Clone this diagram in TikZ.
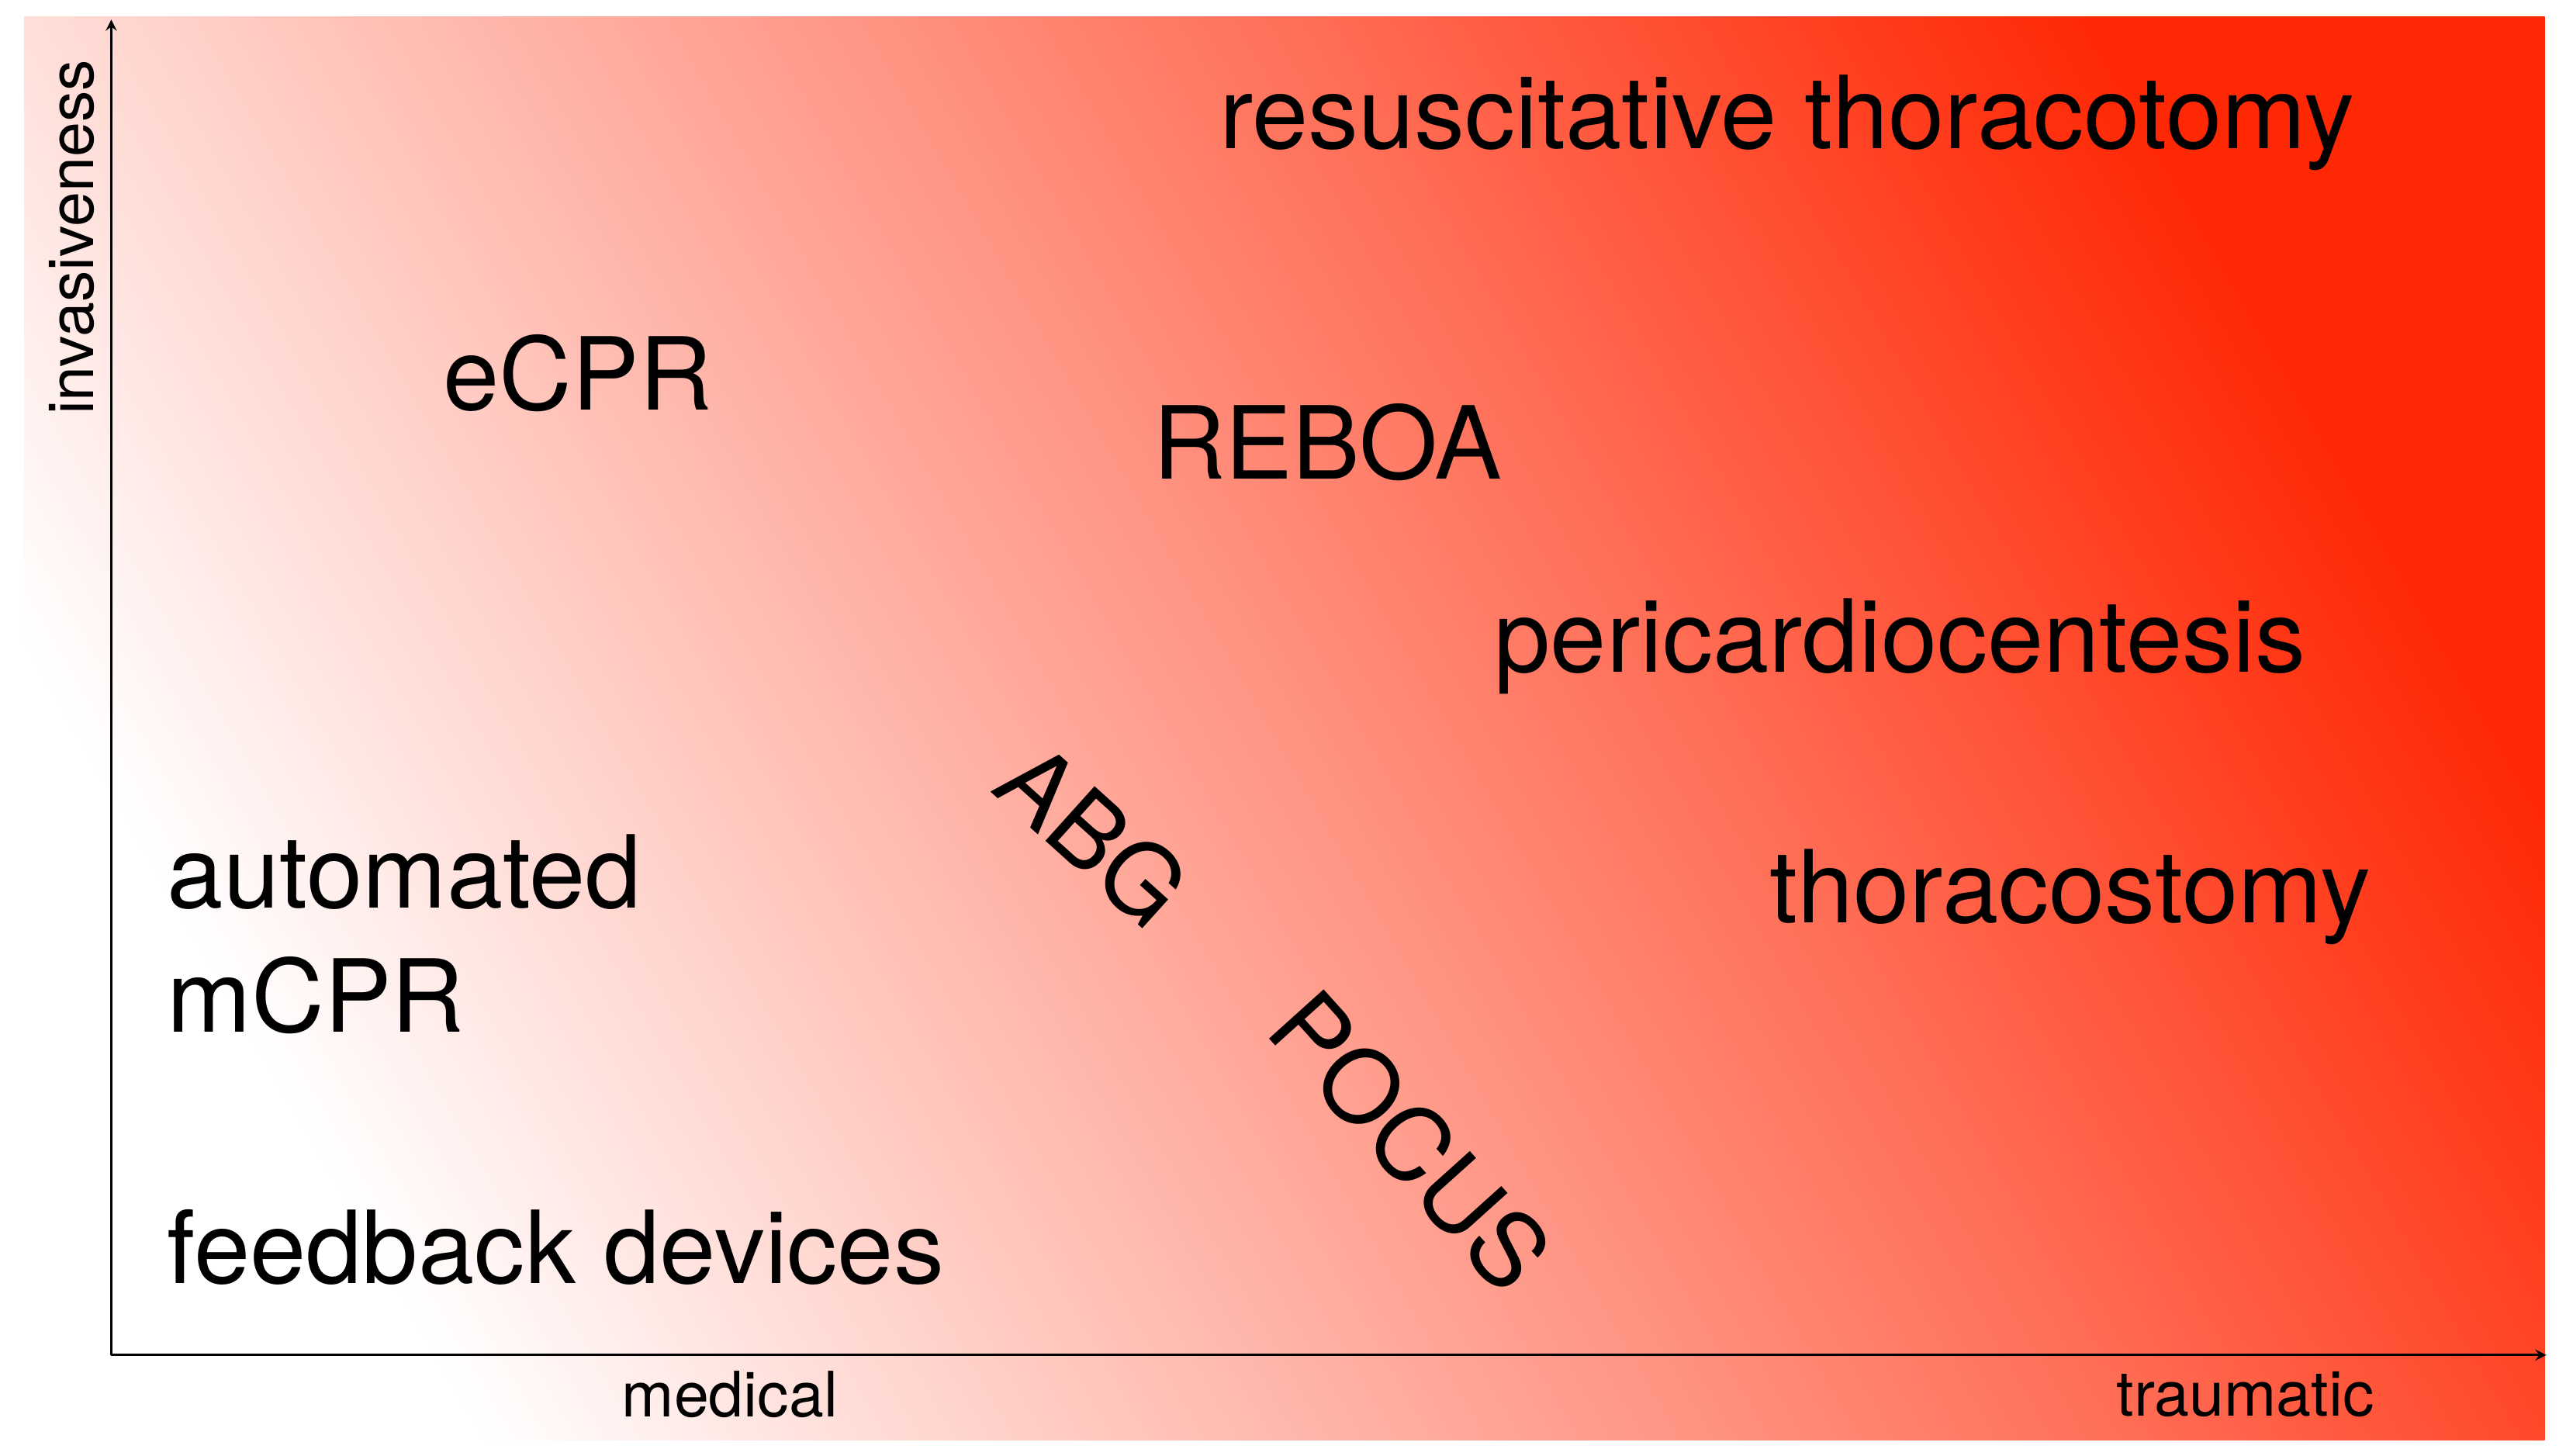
\documentclass[tikz,border=0pt]{standalone}
\usepackage{fontspec}
\setmainfont{TeX Gyre Heros}
\definecolor{cUR}{RGB}{255,40,5}
\definecolor{cMid}{RGB}{250,175,160}
\begin{document}
\begin{tikzpicture}[x=0.0211cm,y=-0.0211cm,
  big/.style={font=\fontsize{37}{40}\selectfont, inner sep=0pt},
  small/.style={font=\fontsize{23}{26}\selectfont, inner sep=0pt},
  ax/.style={line width=0.8pt,-stealth}]
\useasboundingbox (0,0) rectangle (1568,889.6);
\fill[white] (0,0) rectangle (1568,889.6);
\shade[bottom color=white, middle color=cMid, top color=cUR, shading angle=-60] (15,10) rectangle (1555,880);
\coordinate (o) at (68,828);
\coordinate (yt) at (68,12);
\coordinate (xr) at (1556,828);
\draw[ax] (o) -- (yt);
\draw[ax] (o) -- (xr);
\node[small,rotate=90] (inv) at (44,145) {invasiveness};
\node[small] (med) at (446,852) {medical};
\node[small] (tra) at (1372,852) {traumatic};
\node[big] (rt) at (1092,75) {resuscitative thoracotomy};
\node[big] (ecpr) at (353,228) {eCPR};
\node[big] (reboa) at (811,270) {REBOA};
\node[big] (peri) at (1161,395) {pericardiocentesis};
\node[big] (thor) at (1265,548) {thoracostomy};
\node[big,anchor=west] (auto) at (102,533) {automated};
\node[big,anchor=west] (mcpr) at (102,608) {mCPR};
\node[big,anchor=west] (fb) at (102,762) {feedback devices};
\node[big,rotate=-42] (abg) at (668,510) {ABG};
\node[big,rotate=-48] (pocus) at (862,697) {POCUS};
\end{tikzpicture}
\end{document}
